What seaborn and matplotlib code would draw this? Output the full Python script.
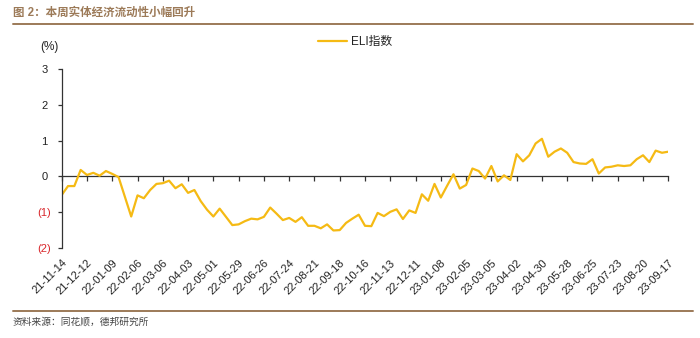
import numpy as np
import pandas as pd
import matplotlib
matplotlib.use("Agg")
import matplotlib.pyplot as plt
from matplotlib.lines import Line2D
import seaborn as sns

# ---- data ----
title_text = "图 2：本周实体经济流动性小幅回升"
source_text = "资料来源：同花顺，德邦研究所"
series_name = "ELI指数"
unit_label = "(%)"

dates = pd.date_range("2021-11-14", periods=97, freq="7D")
eli_values = [-0.52, -0.27, -0.27, 0.18, 0.04, 0.10, 0.02, 0.15, 0.07, -0.02,
              -0.57, -1.12, -0.53, -0.61, -0.38, -0.21, -0.19, -0.12, -0.33, -0.22,
              -0.46, -0.38, -0.69, -0.93, -1.12, -0.90, -1.13, -1.36, -1.34, -1.25,
              -1.18, -1.20, -1.13, -0.87, -1.04, -1.22, -1.16, -1.27, -1.14, -1.38,
              -1.38, -1.45, -1.34, -1.51, -1.50, -1.30, -1.18, -1.07, -1.38, -1.39,
              -1.02, -1.11, -0.99, -0.92, -1.19, -0.95, -1.02, -0.50, -0.68, -0.21,
              -0.59, -0.26, 0.06, -0.34, -0.24, 0.22, 0.15, -0.06, 0.29, -0.14,
              0.03, -0.10, 0.62, 0.42, 0.59, 0.92, 1.05, 0.55, 0.69, 0.78,
              0.66, 0.40, 0.36, 0.35, 0.48, 0.08, 0.25, 0.27, 0.31, 0.29,
              0.31, 0.48, 0.59, 0.40, 0.72, 0.66, 0.69]
x_tick_labels = ["21-11-14", "21-12-12", "22-01-09", "22-02-06", "22-03-06",
                 "22-04-03", "22-05-01", "22-05-29", "22-06-26", "22-07-24",
                 "22-08-21", "22-09-18", "22-10-16", "22-11-13", "22-12-11",
                 "23-01-08", "23-02-05", "23-03-05", "23-04-02", "23-04-30",
                 "23-05-28", "23-06-25", "23-07-23", "23-08-20", "23-09-17"]
y_ticks = [-2, -1, 0, 1, 2, 3]
y_tick_labels = ["(2)", "(1)", "0 ", "1 ", "2 ", "3 "]

df = pd.DataFrame({"date": dates, "week": np.arange(len(eli_values)), "eli": eli_values})

# ---- style ----
sns.set_theme(style="white")
plt.rcParams["font.family"] = ["Liberation Sans", "Noto Sans CJK SC"]
plt.rcParams["axes.unicode_minus"] = False

LINE_COLOR = "#F5BA14"
BROWN = "#9C7A58"
RED = "#D9262B"
DARK = "#333333"

fig = plt.figure(figsize=(7.0, 3.38), dpi=100)
ax = fig.add_axes([61.7 / 700, 1 - 248 / 338, (668.3 - 61.7) / 700, (248 - 69) / 338])

sns.lineplot(data=df, x="week", y="eli", ax=ax, color=LINE_COLOR, linewidth=1.6,
             label=series_name)

ax.set_xlim(df["week"].iloc[0], df["week"].iloc[-1])
ax.set_ylim(-2, 3)
ax.set_xlabel("")
ax.set_ylabel("")

for s in ["top", "right", "bottom"]:
    ax.spines[s].set_visible(False)
ax.spines["left"].set_color(DARK)
ax.spines["left"].set_linewidth(0.9)

ax.set_yticks(y_ticks)
ax.set_yticklabels(y_tick_labels)
ax.tick_params(axis="y", direction="out", length=3, width=0.9, color=DARK,
               labelsize=8, pad=4.5, left=True)
for lab, v in zip(ax.get_yticklabels(), y_ticks):
    lab.set_color(RED if v < 0 else "#222222")

tick_pos = df["week"].iloc[::4].tolist()
ax.set_xticks(tick_pos)
ax.set_xticklabels(x_tick_labels, rotation=45, ha="right", rotation_mode="anchor")
ax.tick_params(axis="x", length=0, labelsize=8, pad=7, labelcolor="#222222")

# zero axis with tick marks
sec = ax.secondary_xaxis(0, transform=ax.transData)
sec.set_xticks(tick_pos)
sec.set_xticklabels([])
sec.tick_params(axis="x", direction="out", length=3.5, width=0.9, color=DARK)
sec.spines["bottom"].set_color(DARK)
sec.spines["bottom"].set_linewidth(0.9)

ax.grid(False)

leg = ax.legend(loc="center", bbox_to_anchor=(355 / 700, 1 - 42 / 338),
                bbox_transform=fig.transFigure, frameon=False, fontsize=8.5,
                handlelength=2.5, handletextpad=0.3)
for t in leg.get_texts():
    t.set_color("#222222")

fig.text(49 / 700, 1 - 47 / 338, unit_label, ha="center", va="center", fontsize=8.5,
         color="#222222")

fig.text(13 / 700, 1 - 13 / 338, title_text, ha="left", va="center", fontsize=8.3,
         color=BROWN, fontweight="bold")
fig.add_artist(Line2D([13 / 700, 693 / 700], [1 - 23.5 / 338] * 2,
                      transform=fig.transFigure, color=BROWN, linewidth=1.4))
fig.add_artist(Line2D([13 / 700, 693 / 700], [1 - 310.5 / 338] * 2,
                      transform=fig.transFigure, color=BROWN, linewidth=1.4))
fig.text(13 / 700, 1 - 322 / 338, source_text, ha="left", va="center", fontsize=7,
         color="#444444")

fig.savefig("out.png", dpi=100)
